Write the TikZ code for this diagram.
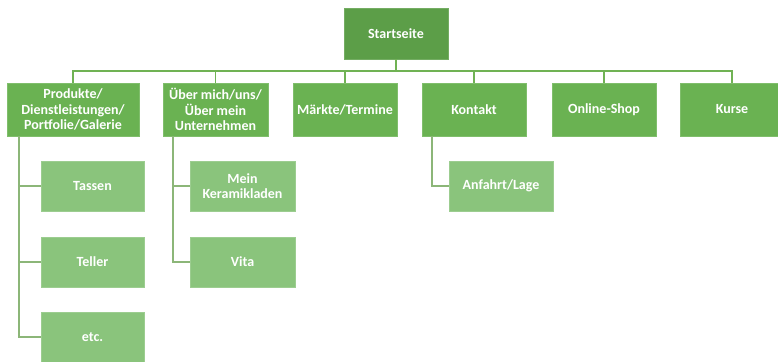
\documentclass[tikz,border=0pt]{standalone}
\usepackage{fontspec}
\setmainfont{Carlito}
\definecolor{topgreen}{RGB}{92,158,72}
\definecolor{midgreen}{RGB}{106,178,82}
\definecolor{subgreen}{RGB}{138,196,124}
\definecolor{busline}{RGB}{112,178,84}
\definecolor{subline}{RGB}{140,182,120}
\begin{document}
\begin{tikzpicture}[x=0.75pt,y=-0.75pt,
  box/.style={rectangle, text=white, font=\bfseries\fontsize{10.5}{11.6}\selectfont, align=center, inner sep=1pt, minimum height=39.75pt, minimum width=78pt},
  topbox/.style={box, fill=topgreen, draw=topgreen!85!white, minimum height=38.25pt},
  lvlbox/.style={box, fill=midgreen, draw=midgreen!85!white},
  subbox/.style={box, fill=subgreen, draw=subgreen!85!white, minimum width=77.25pt, minimum height=37.5pt},
  bus/.style={draw=busline, line width=1.3pt},
  subconn/.style={draw=subline, line width=1.3pt}]
\useasboundingbox (0,0) rectangle (778,361);
\clip (0,0) rectangle (778,361);
\node[topbox] (s) at (396,33.5) {Startseite};
\node[lvlbox, minimum width=99pt] (b1) at (73,109.5) {Produkte/\\Dienstleistungen/\\Portfolie/Galerie};
\node[lvlbox, minimum width=78.75pt] (b2) at (215.5,109.5) {Über mich/uns/\\Über mein\\Unternehmen};
\node[lvlbox] (b3) at (345,109.5) {Märkte/Termine};
\node[lvlbox] (b4) at (474,109.5) {Kontakt};
\node[lvlbox] (b5) at (604,109.5) {Online-Shop};
\node[lvlbox] (b6) at (732,109.5) {Kurse};
\node[subbox] (t1) at (92.5,186) {Tassen};
\node[subbox] (t2) at (92.5,262) {Teller};
\node[subbox] (t3) at (92.5,337) {etc.};
\node[subbox, minimum width=78.75pt] (m1) at (242.5,186) {Mein\\Keramikladen};
\node[subbox, minimum width=78.75pt] (m2) at (242.5,262) {Vita};
\node[subbox, minimum width=78pt] (a1) at (501,186) {Anfahrt/Lage};
\coordinate (busc) at (396,71);
\draw[bus] (s.south) -- (busc);
\foreach \n in {b1,b2,b3,b4,b5,b6}{\draw[bus] (busc) -| (\n.north);}
\coordinate (c1) at ([xshift=9pt]b1.south west);
\coordinate (c2) at ([xshift=7.5pt]b2.south west);
\coordinate (c4) at ([xshift=7.5pt]b4.south west);
\draw[subconn] (c1) |- (t3.west);
\draw[subconn] (c1) |- (t1.west);
\draw[subconn] (c1) |- (t2.west);
\draw[subconn] (c2) |- (m2.west);
\draw[subconn] (c2) |- (m1.west);
\draw[subconn] (c4) |- (a1.west);
\end{tikzpicture}
\end{document}
